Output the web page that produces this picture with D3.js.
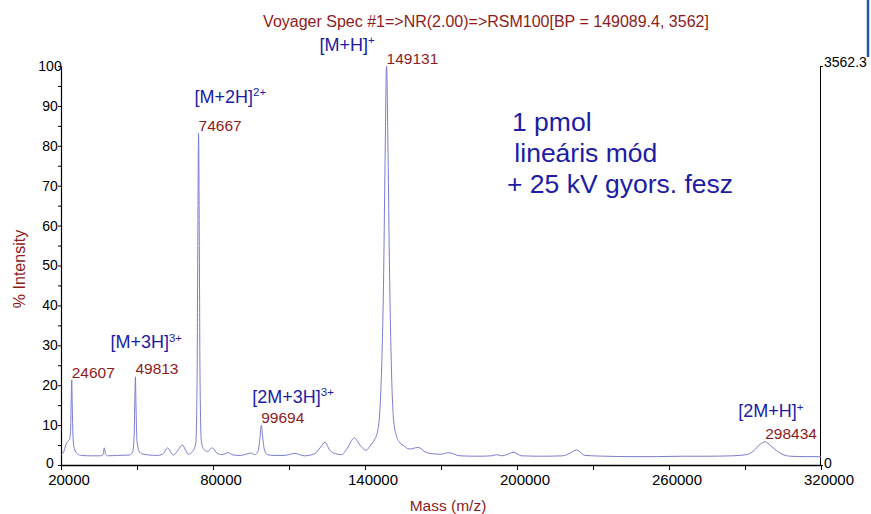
<!DOCTYPE html>
<html>
<head>
<meta charset="utf-8">
<script src="https://cdn.jsdelivr.net/npm/d3@7"></script>
<style>
  body { margin: 0; background: #fff; }
  svg { display: block; font-family: "Liberation Sans", Arial, sans-serif; }
  .axis path, .axis line { stroke: #000; }
</style>
</head>
<body>
<div id="chart-area"></div>
<script>
// spectrum (m/z, % intensity)
const massValues = [
  20000, 21000, 22000, 22800, 23400, 23800, 24050, 24230, 24450, 24750, 25300, 26500, 28000,
  32000, 35500, 36600, 37100, 37600, 38500, 42000, 47000, 48300, 48900, 49200, 49370, 49600,
  50000, 50800, 52000, 55000, 58000, 60500, 62100, 63500, 64300, 66300, 67900, 69300, 70300,
  72000, 73200, 73700, 74000, 74300, 74600, 74900, 75400, 76300, 77800, 79800, 81500, 83500,
  85900, 88000, 91000, 93000, 94900, 96500, 97800, 98500, 99050, 99600, 100300, 101500, 104000,
  108000, 112400, 116000, 120000, 122500, 124200, 126000, 128500, 130800, 133000, 135800, 138000,
  140300, 142500, 143900, 145000, 145900, 146600, 147300, 147900, 148500, 149100, 149700, 150400,
  151200, 152300, 153500, 155000, 157500, 161000, 164000, 167000, 170000, 172900, 177500, 185000,
  190000, 192000, 194000, 196000, 198500, 201800, 210000, 218000, 221000, 223500, 226800, 235000,
  245000, 255000, 265000, 275000, 285000, 290600, 293500, 296000, 297980, 300000, 302500, 305000,
  308000, 314000, 320000
]
const intensityValues = [
  2.6, 3.2, 5.2, 6.0, 6.4, 9, 17, 21.3, 15, 7, 4.0, 2.8, 2.4,
  2.3, 2.3, 2.6, 4.3, 2.7, 2.3, 2.4, 2.5, 3.3, 8, 18, 22.1, 15,
  6, 3.5, 2.8, 2.5, 2.4, 2.9, 4.3, 3.0, 2.5, 3.8, 5.0, 3.6, 2.7,
  3.4, 5.5, 20, 55, 83.2, 55, 20, 6, 4.0, 3.4, 4.3, 3.0, 2.6,
  3.1, 2.5, 2.4, 2.7, 3.0, 2.6, 3.5, 6.5, 10, 7, 3.8, 2.6, 2.4,
  2.4, 2.9, 2.3, 2.8, 4.5, 5.7, 3.8, 2.8, 2.6, 4.2, 6.8, 5.0,
  3.7, 5.2, 6.5, 8.5, 14, 25, 45, 75, 100, 78, 48, 25,
  12, 7.5, 5.8, 5.0, 4.0, 4.4, 3.2, 2.8, 2.7, 3.1, 2.3, 2.2,
  2.3, 2.6, 2.3, 2.6, 3.2, 2.3, 2.2, 2.3, 3.0, 3.8, 2.4, 2.2,
  2.1, 2.1, 2.2, 2.2, 2.3, 2.6, 3.6, 5.2, 5.8, 4.9, 3.6, 2.6,
  2.2, 2.1, 2.1
]

// labelled peaks
const peakMass = [24230, 49370, 74300, 99050, 148500, 297980]
const peakLabels = ["24607", "49813", "74667", "99694", "149131", "298434"]
const ionNames = ["", "[M+3H]", "[M+2H]", "[2M+3H]", "[M+H]", "[2M+H]"]
const ionCharges = ["", "3+", "2+", "3+", "+", "+"]

const xTicks = [20000, 50000, 80000, 110000, 140000, 170000, 200000, 230000, 260000, 290000, 320000]
const xTickLabels = ["20000", "", "80000", "", "140000", "", "200000", "", "260000", "", "320000"]
const yTicks = [0, 5, 10, 15, 20, 25, 30, 35, 40, 45, 50, 55, 60, 65, 70, 75, 80, 85, 90, 95, 100]
const baseIntensity = "3562.3"

const titleText = "Voyager Spec #1=>NR(2.00)=>RSM100[BP = 149089.4, 3562]"
const noteLines = ["1 pmol", " lineáris mód", "+ 25 kV gyors. fesz"]

const RED = "#8e1b1b"
const BLUE = "#1c1ca6"

const MARGIN = { LEFT: 61, RIGHT: 50, TOP: 66, BOTTOM: 49 }
const WIDTH = 871 - MARGIN.LEFT - MARGIN.RIGHT
const HEIGHT = 514 - MARGIN.TOP - MARGIN.BOTTOM

const svg = d3.select("#chart-area").append("svg")
  .attr("width", 871)
  .attr("height", 514)

const g = svg.append("g")
  .attr("transform", `translate(${MARGIN.LEFT}, ${MARGIN.TOP})`)

// Scales
const x = d3.scaleLinear()
  .domain([20000, 320000])
  .range([0, WIDTH])
const y = d3.scaleLinear()
  .domain([0, 100])
  .range([HEIGHT, 0])

// X Axis
const xAxisCall = d3.axisBottom(x)
  .tickValues(xTicks)
  .tickSize(5)
  .tickSizeOuter(0)
  .tickFormat((d, i) => xTickLabels[i])
const xAxis = g.append("g")
  .attr("class", "x axis")
  .attr("transform", `translate(0, ${HEIGHT})`)
  .call(xAxisCall)
xAxis.select(".domain").attr("stroke-width", 1.5)
xAxis.selectAll("text")
  .attr("font-size", "15px")
  .attr("fill", "#000")
  .attr("dx", 7.5)
  .attr("y", 9.5)

// Y Axis
const yAxisCall = d3.axisLeft(y)
  .tickValues(yTicks)
  .tickSize(3)
  .tickSizeOuter(0)
  .tickFormat(d => d % 10 === 0 ? d : "")
const yAxis = g.append("g")
  .attr("class", "y axis")
  .call(yAxisCall)
yAxis.select(".domain").attr("stroke-width", 1.2)
yAxis.selectAll("text")
  .attr("font-size", "14px")
  .attr("fill", "#000")
  .attr("text-anchor", "middle")
  .attr("x", -11)
  .attr("dy", d => d === 0 ? "0.2em" : "0.32em")

// right axis, absolute counts
const yRightCall = d3.axisRight(y)
  .tickValues([0, 100])
  .tickSize(3)
  .tickSizeOuter(0)
  .tickFormat(d => d === 100 ? baseIntensity : "0")
const yRight = g.append("g")
  .attr("class", "y axis")
  .attr("transform", `translate(${WIDTH - 1}, 0)`)
  .call(yRightCall)
yRight.selectAll("text")
  .attr("font-size", "14px")
  .attr("fill", "#000")
  .attr("x", 4)
  .attr("dy", d => d === 100 ? "0em" : "0.2em")

// Labels
svg.append("text")
  .attr("x", 486)
  .attr("y", 27)
  .attr("font-size", "16px")
  .attr("text-anchor", "middle")
  .attr("fill", RED)
  .text(titleText)

svg.append("text")
  .attr("x", 448)
  .attr("y", 511)
  .attr("font-size", "15.5px")
  .attr("text-anchor", "middle")
  .attr("fill", RED)
  .text("Mass (m/z)")

svg.append("text")
  .attr("transform", "translate(25, 269) rotate(-90)")
  .attr("font-size", "16px")
  .attr("text-anchor", "middle")
  .attr("fill", RED)
  .text("% Intensity")

// the spectrum
const spectrum = massValues.map((m, i) => [m, intensityValues[i]])
const line = d3.line()
  .x(d => x(d[0]))
  .y(d => y(d[1]))
  .curve(d3.curveMonotoneX)

g.append("path")
  .datum(spectrum)
  .attr("fill", "none")
  .attr("stroke", "#7c7cd2")
  .attr("stroke-width", 1)
  .attr("d", line)

// peak and ion labels
const ionOffset = [[0, 0], [-25, -26], [-4, -28], [-9, -20], [-67, -13], [-27, -22]]

peakMass.forEach((m, i) => {
  const top = d3.max(spectrum.filter(d => Math.abs(d[0] - m) < 1500), d => d[1])
  const px = x(m)
  const py = y(top) - 2.5

  g.append("text")
    .attr("x", px)
    .attr("y", py)
    .attr("font-size", "15.5px")
    .attr("fill", RED)
    .text(peakLabels[i])

  if (ionNames[i]) {
    const t = g.append("text")
      .attr("x", px + ionOffset[i][0])
      .attr("y", py + ionOffset[i][1])
      .attr("font-size", "18px")
      .attr("fill", BLUE)
    t.append("tspan").text(ionNames[i])
    t.append("tspan")
      .attr("font-size", "11.5px")
      .attr("dy", -6.5)
      .text(ionCharges[i])
  }
})

// measurement note
const noteX = [512, 507, 507]
const note = svg.append("text")
  .attr("font-size", "26.5px")
  .attr("fill", BLUE)
  .attr("xml:space", "preserve")
noteLines.forEach((s, i) => {
  note.append("tspan")
    .attr("x", noteX[i])
    .attr("y", 131 + i * 31)
    .text(s)
})

// stray marker at top right edge
svg.append("line")
  .attr("x1", 868).attr("x2", 868)
  .attr("y1", 0).attr("y2", 57)
  .attr("stroke", "#2255aa")
  .attr("stroke-width", 2.5)
</script>
</body>
</html>
